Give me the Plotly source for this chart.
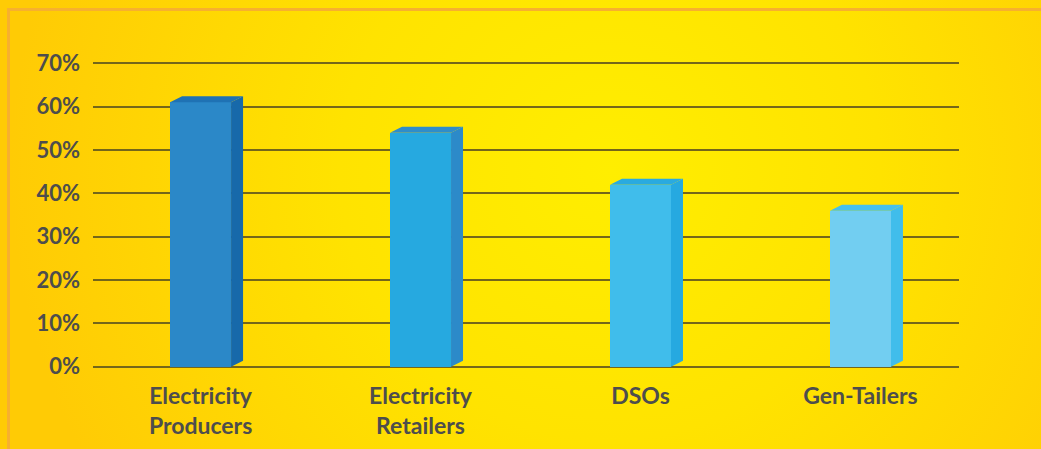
import base64
import plotly.graph_objects as go

categories = ["Electricity<br>Producers", "Electricity<br>Retailers", "DSOs", "Gen-Tailers"]
values = [61, 54, 42, 36]
front_colors = ["#2B88C8", "#26A9E0", "#40BDEB", "#72CEF1"]
side_colors = ["#1769AA", "#2C8AC9", "#26A9E0", "#40BDEB"]
top_colors = ["#1F72B4", "#2F8DCB", "#2AAAE0", "#46C0EC"]
y_ticks = [0, 10, 20, 30, 40, 50, 60, 70]
y_ticktext = [f"{v}%" for v in y_ticks]

W, H = 1041, 449
ML, MR, MT, MB = 93, 82, 50, 69
PW, PH = W - ML - MR, H - MT - MB
XR = [-0.489, 3.448]
YR = [-3.07, 73.07]
px_x = PW / (XR[1] - XR[0])
px_y = PH / (YR[1] - YR[0])
bar_w = 61 / px_x
dx = 12 / px_x
dy = 6 / px_y

xs = list(range(len(categories)))

fig = go.Figure()
fig.add_trace(go.Bar(x=xs, y=values, width=bar_w, marker=dict(color=front_colors, line=dict(width=0)),
                     showlegend=False, hoverinfo="skip"))
for i, v in enumerate(values):
    xl, xr = i - bar_w / 2, i + bar_w / 2
    # side face
    fig.add_trace(go.Scatter(x=[xr, xr + dx, xr + dx, xr, xr], y=[0, dy, v + dy, v, 0],
                             fill="toself", fillcolor=side_colors[i], mode="lines",
                             line=dict(width=0, color=side_colors[i]), showlegend=False, hoverinfo="skip"))
    # top face
    fig.add_trace(go.Scatter(x=[xl, xl + dx, xr + dx, xr, xl], y=[v, v + dy, v + dy, v, v],
                             fill="toself", fillcolor=top_colors[i], mode="lines",
                             line=dict(width=0, color=top_colors[i]), showlegend=False, hoverinfo="skip"))

svg = f"""<svg xmlns='http://www.w3.org/2000/svg' width='{W}' height='{H}' viewBox='0 0 {W} {H}' preserveAspectRatio='none'>
<defs><radialGradient id='g' cx='610' cy='170' r='600' gradientUnits='userSpaceOnUse'>
<stop offset='0' stop-color='#FFEE00'/><stop offset='0.45' stop-color='#FFE300'/><stop offset='1' stop-color='#FFCB05'/>
</radialGradient></defs>
<rect width='{W}' height='{H}' fill='url(#g)'/>
<rect x='8.5' y='9.5' width='{W + 20}' height='{H + 20}' fill='none' stroke='#F7B02E' stroke-width='3'/>
</svg>"""
src = "data:image/svg+xml;base64," + base64.b64encode(svg.encode()).decode()

font_family = "Lato, 'Open Sans', sans-serif"
fig.update_layout(
    width=W, height=H,
    margin=dict(l=ML, r=MR, t=MT, b=MB, pad=0, autoexpand=False),
    paper_bgcolor="#FFDC00", plot_bgcolor="rgba(0,0,0,0)",
    images=[dict(source=src, xref="paper", yref="paper", x=-ML / PW, y=1 + MT / PH,
                 sizex=W / PW, sizey=H / PH, sizing="stretch", xanchor="left", yanchor="top",
                 layer="below")],
    xaxis=dict(range=XR, tickvals=xs, ticktext=categories, showgrid=False, zeroline=False,
               showline=False, ticks="", automargin=False,
               tickfont=dict(family=font_family, size=23, color="#4D4D4D", weight="bold"),
               fixedrange=True),
    yaxis=dict(range=YR, tickvals=y_ticks, ticktext=y_ticktext, showgrid=True, gridcolor="#74661A",
               gridwidth=2, zeroline=False, showline=False, ticks="", ticklabelstandoff=12, automargin=False,
               tickfont=dict(family=font_family, size=22, color="#4D4D4D", weight="bold"), fixedrange=True),
    bargap=0, showlegend=False,
)
fig.write_html("out.html", config={"displayModeBar": False},
               post_script="document.body.style.margin='0';document.body.style.overflow='hidden';")
